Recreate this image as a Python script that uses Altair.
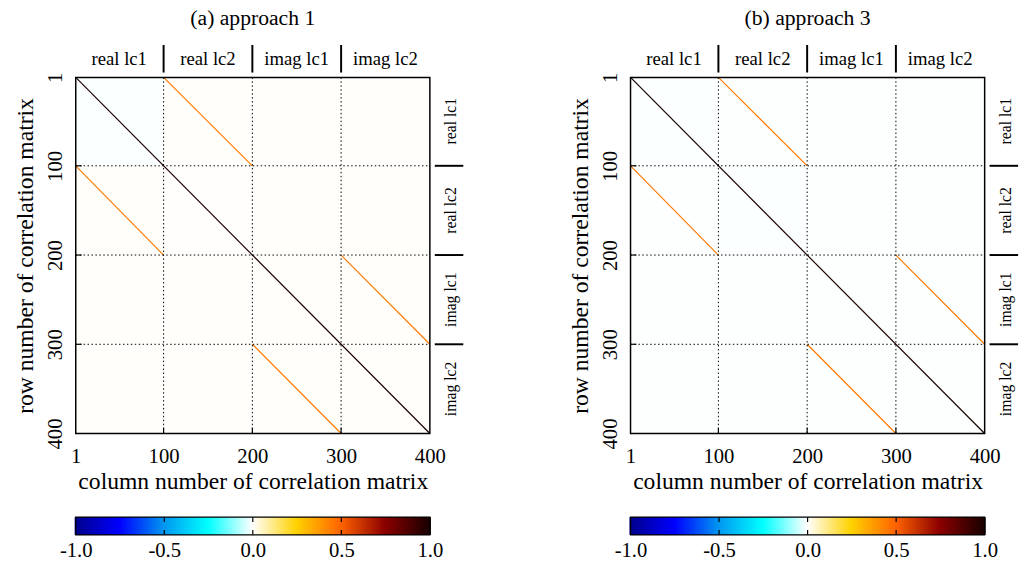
import altair as alt
import pandas as pd

# ---------------- data ----------------
group_labels = ["real lc1", "real lc2", "imag lc1", "imag lc2"]
label_centers = [50, 150, 250, 350]
separators = [100, 200, 300]
tick_values = [1, 100, 200, 300, 400]
block_edges = [1, 100, 200, 300, 400]

# mean background correlation of each 100x100 block (row-major: row block, col block)
blocks_a = [-0.004, 0.004, 0.004, 0.004,
            0.004, 0.003, 0.004, 0.004,
            0.004, 0.004, 0.004, 0.004,
            0.004, 0.004, 0.004, 0.004]
blocks_b = [-0.003, -0.002, -0.002, -0.002,
            -0.002, -0.003, -0.002, -0.002,
            -0.002, -0.002, -0.002, -0.002,
            -0.002, -0.002, -0.002, -0.002]

# diagonal bands: column start, row start, column end, row end, correlation
band_c0 = [100, 1, 300, 200, 1]
band_r0 = [1, 100, 200, 300, 1]
band_c1 = [200, 100, 400, 300, 400]
band_r1 = [100, 200, 300, 400, 400]
band_val = [0.45, 0.45, 0.45, 0.45, 1.0]

cbar_ticks = [-1.0, -0.5, 0.0, 0.5, 1.0]
cbar_inner = [-0.5, 0.0, 0.5]

color_domain = [-1.0, -0.75, -0.5, -0.25, 0.0, 0.25, 0.5, 0.75, 1.0]
color_range = ["#00008b", "#0000ff", "#0096f0", "#00ffff", "#ffffff",
               "#ffd200", "#ff6400", "#8b0000", "#1a0000"]

W, H = 360, 362
FONT = "Liberation Serif"

cscale = alt.Scale(domain=color_domain, range=color_range, interpolate="rgb")
xscale = alt.Scale(domain=[1, 400], nice=False, zero=False)
yscale = alt.Scale(domain=[1, 400], nice=False, zero=False, reverse=True)


def panel(title, blocks):
    rows = []
    k = 0
    for i in range(4):
        for j in range(4):
            rows.append(dict(c0=block_edges[j], c1=block_edges[j + 1],
                             r0=block_edges[i], r1=block_edges[i + 1], value=blocks[k]))
            k += 1
    bg_df = pd.DataFrame(rows)
    band_df = pd.DataFrame(dict(c0=band_c0, r0=band_r0, c1=band_c1, r1=band_r1, value=band_val))
    sep_df = pd.DataFrame(dict(s=separators))
    lab_df = pd.DataFrame(dict(p=label_centers, t=group_labels))
    one = pd.DataFrame(dict(a=[0]))

    bg = alt.Chart(bg_df).mark_rect(stroke=None).encode(
        x=alt.X("c0:Q", scale=xscale,
                axis=alt.Axis(values=tick_values, title="column number of correlation matrix",
                              grid=False, ticks=False, domain=False, labelFontSize=21,
                              labelFont=FONT, titleFont=FONT, titleFontSize=24,
                              titleFontWeight="normal", labelPadding=12, titlePadding=4,
                              labelColor="black", titleColor="black", labelFlush=False)),
        x2="c1:Q",
        y=alt.Y("r0:Q", scale=yscale,
                axis=alt.Axis(values=tick_values, title="row number of correlation matrix",
                              grid=False, ticks=False, domain=False, labelFontSize=21,
                              labelFont=FONT, titleFont=FONT, titleFontSize=24,
                              titleFontWeight="normal", labelAngle=270, labelPadding=10,
                              labelAlign="center", labelBaseline="bottom",
                              titlePadding=8, labelColor="black", titleColor="black",
                              labelFlush=False)),
        y2="r1:Q",
        color=alt.Color("value:Q", scale=cscale, legend=None),
    )

    bands = alt.Chart(band_df).mark_rule(strokeWidth=1.2).encode(
        x="c0:Q", x2="c1:Q", y="r0:Q", y2="r1:Q",
        color=alt.Color("value:Q", scale=cscale, legend=None),
    )

    vgrid = alt.Chart(sep_df).mark_rule(color="black", strokeDash=[1.5, 2.5], strokeWidth=1).encode(
        x="s:Q", y=alt.value(0), y2=alt.value(H))
    hgrid = alt.Chart(sep_df).mark_rule(color="black", strokeDash=[1.5, 2.5], strokeWidth=1).encode(
        y="s:Q", x=alt.value(0), x2=alt.value(W))

    # inward ticks
    btick = alt.Chart(sep_df).mark_rule(color="black", strokeWidth=1.2).encode(
        x="s:Q", y=alt.value(H), y2=alt.value(H - 6))
    ltick = alt.Chart(sep_df).mark_rule(color="black", strokeWidth=1.2).encode(
        y="s:Q", x=alt.value(0), x2=alt.value(6))

    frame = alt.Chart(one).mark_rect(filled=False, stroke="black", strokeWidth=1.5).encode(
        x=alt.value(0), x2=alt.value(W), y=alt.value(0), y2=alt.value(H))

    top_lab = alt.Chart(lab_df).mark_text(font=FONT, fontSize=19, baseline="middle", color="black").encode(
        x="p:Q", y=alt.value(-19), text="t:N")
    top_sep = alt.Chart(sep_df).mark_rule(color="black", strokeWidth=2).encode(
        x="s:Q", y=alt.value(-33), y2=alt.value(-5))

    right_lab = alt.Chart(lab_df).mark_text(font=FONT, fontSize=16, angle=270, baseline="middle",
                                           color="black").encode(
        y="p:Q", x=alt.value(W + 22), text="t:N")
    right_sep = alt.Chart(sep_df).mark_rule(color="black", strokeWidth=2).encode(
        y="s:Q", x=alt.value(W + 5), x2=alt.value(W + 34))

    ttl = alt.Chart(one).mark_text(font=FONT, fontSize=22, baseline="middle", color="black").encode(
        x=alt.value(W / 2), y=alt.value(-60), text=alt.value(title))

    main = alt.layer(bg, bands, vgrid, hgrid, btick, ltick, frame,
                     top_lab, top_sep, right_lab, right_sep, ttl).properties(width=W, height=H)

    cscale_x = alt.Scale(domain=[-1, 1], nice=False)
    cb = alt.Chart(alt.sequence(-1, 1.001, 0.005, as_="v")).mark_rule(strokeWidth=2.2).encode(
        x=alt.X("v:Q", scale=cscale_x,
                axis=alt.Axis(values=cbar_ticks, title=None, ticks=False, domain=False, grid=False,
                              labelExpr="datum.value < 0 ? '-' + format(abs(datum.value), '.1f') : format(datum.value, '.1f')",
                              labelFontSize=21, labelFont=FONT, labelColor="black",
                              labelPadding=5, labelFlush=False)),
        y=alt.value(0), y2=alt.value(18),
        color=alt.Color("v:Q", scale=cscale, legend=None),
    )
    cinner = pd.DataFrame(dict(t=cbar_inner))
    ct1 = alt.Chart(cinner).mark_rule(color="black", strokeWidth=1.2).encode(
        x="t:Q", y=alt.value(0), y2=alt.value(5))
    ct2 = alt.Chart(cinner).mark_rule(color="black", strokeWidth=1.2).encode(
        x="t:Q", y=alt.value(13), y2=alt.value(18))
    cframe = alt.Chart(one).mark_rect(filled=False, stroke="black", strokeWidth=1.2).encode(
        x=alt.value(0), x2=alt.value(W), y=alt.value(0), y2=alt.value(18))
    cbar = alt.layer(cb, ct1, ct2, cframe).properties(width=W, height=18)

    return alt.vconcat(main, cbar, spacing=22)


chart = alt.hconcat(
    panel("(a) approach 1", blocks_a),
    panel("(b) approach 3", blocks_b),
    spacing=106,
).configure_view(stroke=None).properties(padding={"left": 14, "top": 3, "right": 5, "bottom": 5})

chart.save("out.html", embed_options={"renderer": "svg", "actions": False})
